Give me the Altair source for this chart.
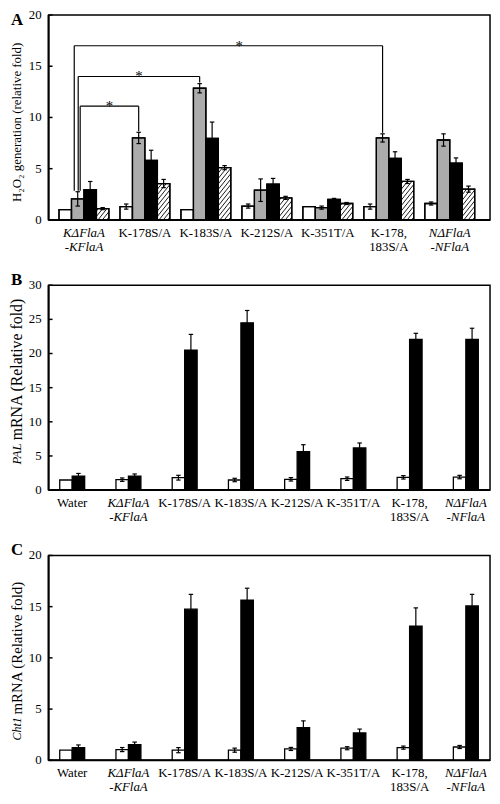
import altair as alt
import pandas as pd

FONT = "Liberation Serif"

# ---------------- Panel A : H2O2 generation ----------------
cats_a = ["KΔFlaA|-KFlaA", "K-178S/A", "K-183S/A", "K-212S/A",
          "K-351T/A", "K-178,|183S/A", "NΔFlaA|-NFlaA"]
a_series = ["white", "gray", "black", "hatched"]
a_white = [1.0, 1.3, 1.0, 1.35, 1.3, 1.3, 1.6]
a_white_err = [0, 0.25, 0, 0.2, 0, 0.25, 0.15]
a_gray = [2.05, 8.0, 12.85, 2.9, 1.2, 8.0, 7.8]
a_gray_err = [0.7, 0.55, 0.45, 1.1, 0.15, 0.4, 0.6]
a_black = [2.95, 5.8, 7.95, 3.5, 2.0, 6.0, 5.55]
a_black_err = [0.8, 1.0, 1.6, 0.55, 0.1, 0.65, 0.5]
a_hatch = [1.1, 3.55, 5.1, 2.15, 1.6, 3.75, 3.0]
a_hatch_err = [0.1, 0.4, 0.2, 0.15, 0.1, 0.2, 0.3]
a_yticks = [0, 5, 10, 15, 20]

# significance brackets (from group 0 gray bar to target gray bars)
sig_to = [1, 2, 5]
sig_level = [11.1, 14.0, 17.0]

# ---------------- Panels B / C ----------------
cats_bc = ["Water", "KΔFlaA|-KFlaA", "K-178S/A", "K-183S/A", "K-212S/A",
           "K-351T/A", "K-178,|183S/A", "NΔFlaA|-NFlaA"]
bc_series = ["white", "black"]
b_white = [1.48, 1.53, 1.82, 1.48, 1.58, 1.67, 1.87, 1.91]
b_white_err = [0, 0.25, 0.35, 0.25, 0.25, 0.25, 0.25, 0.25]
b_black = [2.06, 2.06, 20.5, 24.5, 5.65, 6.17, 22.06, 22.06]
b_black_err = [0.38, 0.3, 2.3, 1.8, 1.0, 0.73, 0.9, 1.64]
b_yticks = [0, 5, 10, 15, 20, 25, 30]

c_white = [0.99, 1.05, 0.99, 0.99, 1.11, 1.18, 1.24, 1.3]
c_white_err = [0, 0.2, 0.25, 0.2, 0.15, 0.15, 0.15, 0.15]
c_black = [1.24, 1.53, 14.75, 15.64, 3.2, 2.67, 13.1, 15.07]
c_black_err = [0.26, 0.25, 1.45, 1.16, 0.65, 0.38, 1.78, 1.13]
c_yticks = [0, 5, 10, 15, 20]

# ---------------- style ----------------
W = 446
H = 207
SPACING = 16
DOM_A = [-0.58, 6.66]
DOM_BC = [-0.42, 7.43]
BAR_PX = 12.6
CAP_PX = 4.5
HATCH_GAP_PX = 5.5
HATCH_SLOPE = 1.25
FILLS = {"white": "#ffffff", "gray": "#acacac", "black": "#000000", "hatched": "#ffffff"}
BRACKET_LEFT_PX = [2.5, 0.5, -3.5]
STAR_FRAC = [0.5, 0.5, 0.535]


def hatch_lines(x0, x1, h, px_x, px_y):
    k = HATCH_SLOPE * px_x / px_y
    s = HATCH_GAP_PX / px_y
    w = x1 - x0
    out = []
    c = -k * w + s * 0.5
    while c < h:
        xa = max(x0, x0 + (0 - c) / k)
        xb = min(x1, x0 + (h - c) / k)
        if xb > xa:
            out.append(dict(x0=xa, x1=xb, y0=c + k * (xa - x0), y1=c + k * (xb - x0)))
        c += s
    return out


def panel(cats, series, vals, errs, ymax, yticks, height, dom, letter, letter_y,
          title_parts, title_center, sig=False):
    px_x = W / (dom[1] - dom[0])
    px_y = height / ymax
    bw = BAR_PX / px_x
    cw = CAP_PX / 2 / px_x
    ns = len(series)
    bars, err_rows, cap_rows, hatch_rows = [], [], [], []
    centers = {}
    for i in range(len(cats)):
        for j, s in enumerate(series):
            v = vals[j][i]
            e = errs[j][i]
            x0 = i + (j - ns / 2) * bw
            x1 = x0 + bw
            xc = (x0 + x1) / 2
            centers[(i, s)] = xc
            bars.append(dict(x0=x0, x1=x1, y0=0.0, y1=v, fill=FILLS[s]))
            if e > 0:
                err_rows.append(dict(x0=xc, x1=xc, y0=v - e, y1=v + e))
                cap_rows.append(dict(x0=xc - cw, x1=xc + cw, y0=v + e, y1=v + e))
                cap_rows.append(dict(x0=xc - cw, x1=xc + cw, y0=v - e, y1=v - e))
            if s == "hatched":
                hatch_rows += hatch_lines(x0, x1, v, px_x, px_y)

    xscale = alt.Scale(domain=dom, nice=False, zero=False)
    yscale = alt.Scale(domain=[0, ymax], nice=False, zero=False)

    def X(f):
        return alt.X(f, scale=xscale, axis=None)

    def Y(f):
        return alt.Y(f, scale=yscale, axis=None)

    def rules(rows, width):
        return alt.Chart(pd.DataFrame(rows)).mark_rule(color="black", strokeWidth=width).encode(
            x=X("x0:Q"), x2="x1:Q", y=Y("y0:Q"), y2="y1:Q")

    bar_df = pd.DataFrame(bars)
    one = pd.DataFrame({"k": [0]})
    layers = [
        alt.Chart(bar_df).mark_rect(stroke="black", strokeWidth=1.3).encode(
            x=X("x0:Q"), x2="x1:Q", y=Y("y0:Q"), y2="y1:Q",
            fill=alt.Fill("fill:N", scale=None)),
    ]
    if hatch_rows:
        layers.append(rules(hatch_rows, 0.9))
        layers.append(alt.Chart(bar_df).mark_rect(fillOpacity=0, stroke="black", strokeWidth=1.3).encode(
            x=X("x0:Q"), x2="x1:Q", y=Y("y0:Q"), y2="y1:Q"))
    layers.append(rules(err_rows, 1.2))
    layers.append(rules(cap_rows, 1.2))

    # axis lines (left and bottom), inward ticks and tick labels
    layers.append(alt.Chart(one).mark_rule(color="black", strokeWidth=2).encode(
        x=alt.value(0), y=alt.value(0), y2=alt.value(height)))
    layers.append(alt.Chart(one).mark_rule(color="black", strokeWidth=2).encode(
        x=alt.value(0), x2=alt.value(W), y=alt.value(height)))
    tick_df = pd.DataFrame({"t": yticks})
    layers.append(alt.Chart(tick_df).mark_rule(color="black", strokeWidth=1.5).encode(
        x=alt.value(0), x2=alt.value(4), y=Y("t:Q")))
    layers.append(alt.Chart(tick_df).mark_text(
        font=FONT, fontSize=13, align="right", baseline="middle", fill="black").encode(
        x=alt.value(-7), y=Y("t:Q"), text=alt.Text("t:Q", format="d")))

    # category labels (italic for the deletion constructs)
    lab_df = pd.DataFrame({"x": list(range(len(cats))), "label": cats,
                           "ital": ["Δ" in c for c in cats]})
    for ital in (True, False):
        sub = lab_df[lab_df["ital"] == ital]
        if len(sub):
            layers.append(alt.Chart(sub).mark_text(
                font=FONT, fontSize=13, fontStyle="italic" if ital else "normal", lineBreak="|",
                lineHeight=14, align="center", baseline="top", fill="black").encode(
                x=X("x:Q"), y=alt.value(height + 7), text="label:N"))

    if sig:
        seg_rows, star_rows = [], []
        base_l = vals[1][0] + errs[1][0] + 0.1
        for t, lev, dpx, fr in zip(sig_to, sig_level, BRACKET_LEFT_PX, STAR_FRAC):
            xl = centers[(0, "gray")] + dpx / px_x
            xr = centers[(t, "gray")]
            base_r = vals[1][t] + errs[1][t] + 0.1
            seg_rows += [dict(x0=xl, x1=xl, y0=base_l, y1=lev),
                         dict(x0=xl, x1=xr, y0=lev, y1=lev),
                         dict(x0=xr, x1=xr, y0=lev, y1=base_r)]
            star_rows.append(dict(x=xl + (xr - xl) * fr, y=lev, s="*"))
        layers.append(rules(seg_rows, 1.2))
        layers.append(alt.Chart(pd.DataFrame(star_rows)).mark_text(
            font=FONT, fontSize=15, baseline="alphabetic", dy=5, fill="black").encode(
            x=X("x:Q"), y=Y("y:Q"), text="s:N"))

    layers.append(alt.Chart(one).mark_text(text=letter, font=FONT, fontSize=17, fontWeight="bold",
                                           align="left", baseline="top", fill="black").encode(
        x=alt.value(-38), y=alt.value(letter_y)))

    # y title; junction point at title_center
    if len(title_parts) == 1:
        txt, size = title_parts[0]
        layers.append(alt.Chart(one).mark_text(text=txt, font=FONT, fontSize=size, angle=270,
                                               align="center", baseline="middle", fill="black").encode(
            x=alt.value(-32), y=alt.value(title_center)))
    else:
        (t1, s1), (t2, s2) = title_parts
        layers.append(alt.Chart(one).mark_text(text=t1, font=FONT, fontSize=s1, fontStyle="italic",
                                               angle=270, align="right", baseline="middle",
                                               fill="black").encode(
            x=alt.value(-32), y=alt.value(title_center)))
        layers.append(alt.Chart(one).mark_text(text=t2, font=FONT, fontSize=s2, angle=270,
                                               align="left", baseline="middle", fill="black").encode(
            x=alt.value(-32), y=alt.value(title_center - 3)))

    return alt.layer(*layers).properties(width=W, height=height)


pa = panel(cats_a, a_series, [a_white, a_gray, a_black, a_hatch],
           [a_white_err, a_gray_err, a_black_err, a_hatch_err],
           20, a_yticks, H, DOM_A, "A", -3, [("H₂O₂ generation (relative fold)", 13)],
           title_center=H * 110 / 210, sig=True)
pb = panel(cats_bc, bc_series, [b_white, b_black], [b_white_err, b_black_err],
           30, b_yticks, H, DOM_BC, "B", -13, [("PAL", 13), ("mRNA (Relative fold)", 16)],
           title_center=H * 162 / 210)
pc = panel(cats_bc, bc_series, [c_white, c_black], [c_white_err, c_black_err],
           20, c_yticks, H, DOM_BC, "C", -13, [("Cht1", 12), ("mRNA (Relative fold)", 15)],
           title_center=H * 166 / 210)

chart = alt.vconcat(pa, pb, pc, spacing=SPACING).properties(
    padding={"top": -4, "left": 0, "right": 0, "bottom": 0}
).configure_view(stroke="black", strokeWidth=1.5)

chart.save("out.html", embed_options={"renderer": "svg", "actions": False})
